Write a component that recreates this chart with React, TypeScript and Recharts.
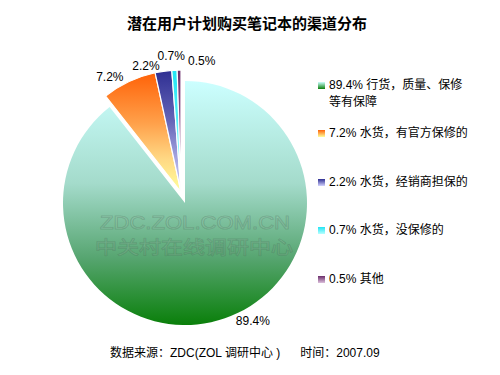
import { PieChart, Pie, Cell, Legend } from "recharts";

// 潜在用户计划购买笔记本的渠道分布 (ZDC 2007.09)
const channels = [
  "行货，质量、保修等有保障",
  "水货，有官方保修的",
  "水货，经销商担保的",
  "水货，没保修的",
  "其他",
];
const shares = [89.4, 7.2, 2.2, 0.7, 0.5];

const data = channels.map((name, i) => ({ name, share: shares[i] }));

// top -> bottom gradient stops per slice
const gradients = [
  ["#ccffff", "#a4dbcb", "#58a672", "#0a7f0a"],
  ["#ff6208", "#ffa04a", "#ffd884", "#ffff9c"],
  ["#2e2e92", "#6666b8", "#a4a4e0", "#d4d4ff"],
  ["#22e4f4", "#55f0fa", "#88f8ff", "#b8ffff"],
  ["#6a2c6a", "#8e5a8e", "#b690b6", "#dcc0dc"],
];

const RADIAN = Math.PI / 180;
const FONT = '"Liberation Sans", Arial, "Noto Sans CJK SC", sans-serif';

function renderLabel(props: any) {
  const { cx, cy, midAngle, outerRadius, index } = props;
  const cos = Math.cos(-midAngle * RADIAN);
  const sin = Math.sin(-midAngle * RADIAN);
  let x = cx + (outerRadius + 6) * cos;
  let y = cy + (outerRadius + 6) * sin;
  let anchor: "start" | "middle" | "end" = "start";
  if (cos < -0.1) {
    anchor = "end";
    x -= 3;
    y += 1;
  } else if (cos < -0.03) {
    anchor = "middle";
    x -= 3;
    y -= 8;
  } else {
    x += 9;
    y -= 3;
  }
  return (
    <text
      key={`lbl-${index}`}
      x={x}
      y={y}
      textAnchor={anchor}
      dominantBaseline="central"
      fontSize={12}
      fontFamily={FONT}
      fill="#000"
    >
      {`${shares[index]}%`}
    </text>
  );
}

function LegendList(props: any) {
  const seen = new Set<string>();
  const items = (props.payload || [])
    .filter((p: any) => {
      if (seen.has(p.value)) return false;
      seen.add(p.value);
      return true;
    })
    .sort((a: any, b: any) => channels.indexOf(a.value) - channels.indexOf(b.value));
  return (
    <div style={{ fontFamily: FONT, fontSize: 12, color: "#000" }}>
      {items.map((p: any) => {
        const i = channels.indexOf(p.value);
        const g = gradients[i];
        return (
          <div key={p.value} style={{ position: "relative", height: 48.5 }}>
            <span
              style={{
                position: "absolute",
                left: 2,
                top: 5,
                width: 7,
                height: 7,
                background: `linear-gradient(${g[0]}, ${g[3]})`,
              }}
            />
            <div style={{ marginLeft: 13, width: 140, lineHeight: "17px" }}>
              {`${shares[i]}% ${p.value}`}
            </div>
          </div>
        );
      })}
    </div>
  );
}

export default function App() {
  return (
    <div style={{ position: "relative", width: 500, height: 375, background: "#fff" }}>
      <style>{`body{margin:0}`}</style>
      <PieChart width={500} height={375}>
        <defs>
          {gradients.map((g, i) => (
            <linearGradient key={i} id={`grad${i}`} x1="0" y1="0" x2="0" y2="1">
              <stop offset="0%" stopColor={g[0]} />
              <stop offset="42%" stopColor={g[1]} />
              <stop offset="72%" stopColor={g[2]} />
              <stop offset="100%" stopColor={g[3]} />
            </linearGradient>
          ))}
        </defs>
        <text
          x={247}
          y={22}
          textAnchor="middle"
          dominantBaseline="central"
          fontSize={15}
          fontWeight="bold"
          fontFamily='"Noto Sans CJK SC", sans-serif'
          fill="#000"
        >
          潜在用户计划购买笔记本的渠道分布
        </text>
        {/* main slice, pushed slightly down-right */}
        <Pie
          data={data}
          dataKey="share"
          nameKey="name"
          cx={180}
          cy={198}
          outerRadius={122}
          startAngle={90}
          endAngle={-270}
          isAnimationActive={false}
          labelLine={false}
          label={(p: any) => (p.index === 0 ? renderLabel(p) : null)}
        >
          {data.map((d, i) => (
            <Cell
              key={d.name}
              fill={i === 0 ? "url(#grad0)" : "none"}
              stroke="none"
            />
          ))}
        </Pie>
        {/* small slices, pulled up-left */}
        <Pie
          data={data}
          dataKey="share"
          nameKey="name"
          cx={176}
          cy={187}
          outerRadius={122}
          startAngle={90}
          endAngle={-270}
          isAnimationActive={false}
          legendType="none"
          labelLine={false}
          label={(p: any) => (p.index === 0 ? null : renderLabel(p))}
        >
          {data.map((d, i) => (
            <Cell
              key={d.name}
              fill={i === 0 ? "none" : `url(#grad${i})`}
              stroke={i === 0 ? "none" : "#fff"}
              strokeWidth={1.2}
            />
          ))}
        </Pie>
        <Legend
          layout="vertical"
          align="right"
          verticalAlign="top"
          content={<LegendList />}
          wrapperStyle={{ top: 76.5, left: 316, width: 175 }}
        />
        <text
          x={110}
          y={353}
          dominantBaseline="central"
          fontSize={12}
          fontFamily={FONT}
          fill="#000"
          xmlSpace="preserve"
        >
          {"数据来源：ZDC(ZOL 调研中心 )      时间：2007.09"}
        </text>
      </PieChart>
      {/* watermark over the pie */}
      <svg
        width={500}
        height={375}
        style={{ position: "absolute", left: 0, top: 0, pointerEvents: "none" }}
      >
        <text
          x={100}
          y={229}
          textLength={190}
          lengthAdjust="spacingAndGlyphs"
          fontSize={18}
          fontFamily={FONT}
          fill="#ffffff"
          fillOpacity={0.1}
          stroke="#3c5a48"
          strokeOpacity={0.24}
          strokeWidth={1}
        >
          ZDC.ZOL.COM.CN
        </text>
        <text
          x={95}
          y={254}
          textLength={198}
          lengthAdjust="spacingAndGlyphs"
          fontSize={18}
          fontFamily='"Noto Sans CJK SC", sans-serif'
          fill="#ffffff"
          fillOpacity={0.1}
          stroke="#3c5a48"
          strokeOpacity={0.24}
          strokeWidth={1}
        >
          中关村在线调研中心
        </text>
      </svg>
    </div>
  );
}
